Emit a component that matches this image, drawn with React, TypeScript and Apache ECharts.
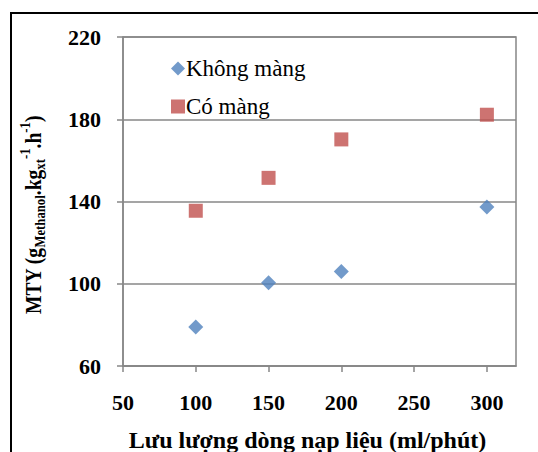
import React, { useEffect, useRef } from "react";
import * as echarts from "echarts";

const flowRates = [100, 150, 200, 300];
const khongMang = [79, 100.5, 106, 137.3];
const coMang = [135.5, 151.5, 170.2, 182.2];
const xTicks = [50, 100, 150, 200, 250, 300];
const seriesNames = ["Không màng", "Có màng"];

export default function App() {
  const ref = useRef<HTMLDivElement>(null);
  useEffect(() => {
    const chart = echarts.init(ref.current!, null, { renderer: "svg" });
    const font = "Liberation Serif";
    const grey = "#878787";
    chart.setOption({
      animation: false,
      backgroundColor: "#ffffff",
      textStyle: { fontFamily: font },
      grid: {
        left: 123,
        right: 22,
        top: 37,
        bottom: 86,
        containLabel: false,
        outerBoundsMode: "none",
        show: true,
        borderColor: grey,
        borderWidth: 1.5,
      },
      legend: {
        orient: "vertical",
        left: 166,
        top: 52,
        itemGap: 15,
        itemWidth: 14,
        itemHeight: 14,
        textStyle: { fontFamily: font, fontSize: 23, color: "#000", padding: [0, 0, 0, -4] },
        data: [
          { name: seriesNames[0], icon: "diamond" },
          { name: seriesNames[1], icon: "rect" },
        ],
      },
      xAxis: {
        type: "value",
        min: 50,
        max: 320,
        interval: 50,
        axisLine: { show: true, lineStyle: { color: grey, width: 1.5 } },
        axisTick: {
          show: true,
          inside: false,
          length: 6,
          lineStyle: { color: grey, width: 1.5 },
          customValues: xTicks,
        },
        axisLabel: {
          customValues: xTicks,
          fontFamily: font,
          fontSize: 22,
          fontWeight: "bold",
          color: "#000",
          margin: 25,
        },
        splitLine: { show: false },
        name: "Lưu lượng dòng nạp liệu (ml/phút)",
        nameLocation: "middle",
        nameGap: 62,
        nameTextStyle: {
          fontFamily: font,
          fontSize: 24,
          fontWeight: "bold",
          color: "#000",
          padding: [0, 24, 0, 0],
        },
      },
      yAxis: {
        type: "value",
        min: 60,
        max: 220,
        interval: 40,
        axisLine: { show: true, lineStyle: { color: grey, width: 1.5 } },
        axisTick: { show: true, inside: false, length: 6, lineStyle: { color: grey, width: 1.5 } },
        axisLabel: {
          fontFamily: font,
          fontSize: 22,
          fontWeight: "bold",
          color: "#000",
          margin: 22,
        },
        splitLine: { show: true, lineStyle: { color: grey, width: 1.5 } },
      },
      graphic: [
        {
          type: "rect",
          shape: { x: 11, y: 13, width: 700, height: 600 },
          style: { fill: "none", stroke: "#000", lineWidth: 2 },
          silent: true,
        },
        {
          type: "text",
          x: 33,
          y: 215,
          scaleX: 0.85,
          rotation: Math.PI / 2,
          style: {
            text: "{b|MTY (g}{s|Methanol}{b|.kg}{s|xt}{p|-1}{b|.h}{p|-1}{b|)}",
            align: "center",
            verticalAlign: "middle",
            fontFamily: font,
            fill: "#000",
            rich: {
              b: { fontFamily: font, fontSize: 23, fontWeight: "bold", lineHeight: 30, verticalAlign: "middle" },
              s: { fontFamily: font, fontSize: 15, fontWeight: "bold", lineHeight: 30, verticalAlign: "bottom" },
              p: { fontFamily: font, fontSize: 15, fontWeight: "bold", lineHeight: 30, verticalAlign: "top" },
            },
          },
        },
      ],
      series: [
        {
          name: seriesNames[0],
          type: "scatter",
          symbol: "diamond",
          symbolSize: 15,
          itemStyle: { color: "#4F81BD" },
          data: flowRates.map((x, i) => [x, khongMang[i]]),
        },
        {
          name: seriesNames[1],
          type: "scatter",
          symbol: "rect",
          symbolSize: 14,
          itemStyle: { color: "#C0504D" },
          data: flowRates.map((x, i) => [x, coMang[i]]),
        },
      ],
    });
    return () => chart.dispose();
  }, []);
  return (
    <div
      ref={ref}
      style={{ position: "fixed", left: 0, top: 0, width: 538, height: 452 }}
    />
  );
}
